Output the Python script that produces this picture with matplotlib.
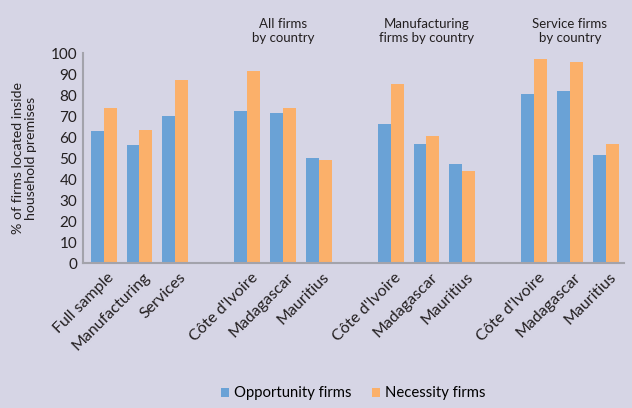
import numpy as np
import matplotlib.pyplot as plt

plt.rcParams['font.family'] = ['Lato', 'DejaVu Sans']

labels = ['Full sample', 'Manufacturing', 'Services',
          "Côte d'Ivoire", 'Madagascar', 'Mauritius',
          "Côte d'Ivoire", 'Madagascar', 'Mauritius',
          "Côte d'Ivoire", 'Madagascar', 'Mauritius']
opportunity = [63, 56, 70, 72.5, 71.5, 50, 66, 56.5, 47, 80.5, 82, 51.5]
necessity = [74, 63.5, 87, 91.5, 74, 49, 85.5, 60.5, 44, 97, 95.5, 56.5]
group_titles = ['All firms\nby country', 'Manufacturing\nfirms by country',
                'Service firms\nby country']

bg = '#d6d5e5'
blue = '#6aa2d6'
orange = '#fbb06a'
txt = '#231f20'

# one empty slot between each block of three
x = np.array([0, 1, 2, 4, 5, 6, 8, 9, 10, 12, 13, 14], dtype=float)
w = 0.36

fig = plt.figure(figsize=(6.32, 4.08), dpi=100, facecolor=bg)
ax = fig.add_axes([0.131, 0.355, 0.856, 0.515])
ax.set_facecolor(bg)

ax.bar(x - w / 2, opportunity, w, color=blue, label='Opportunity firms')
ax.bar(x + w / 2, necessity, w, color=orange, label='Necessity firms')

ax.set_ylim(0, 100)
ax.set_xlim(-0.58, 14.5)
ax.set_yticks(range(0, 101, 10))
ax.tick_params(axis='y', length=0, labelsize=11, pad=4, colors=txt)
ax.set_xticks(x + 0.1)
ax.set_xticklabels(labels, rotation=45, ha='right', rotation_mode='anchor',
                   fontsize=11.5, color=txt)
ax.tick_params(axis='x', length=0, pad=5)

for s in ['top', 'right']:
    ax.spines[s].set_visible(False)
for s in ['left', 'bottom']:
    ax.spines[s].set_color('#a3a3ab')
    ax.spines[s].set_linewidth(1.5)

ax.set_ylabel('% of firms located inside\nhousehold premises', fontsize=10.2,
              color=txt, linespacing=1.05, labelpad=10)

for xc, t in zip([5, 9, 13], group_titles):
    ax.text(xc, 1.165, t, transform=ax.get_xaxis_transform(), ha='center',
            va='top', fontsize=9.5, color=txt, linespacing=1.2)

# legend sits centred under the plot area
ax.legend(loc='center', bbox_to_anchor=(0.5, -0.62), ncol=2, frameon=False,
          fontsize=10.7, handlelength=0.55, handleheight=0.55,
          handletextpad=0.3, columnspacing=1.4)

fig.savefig('out.png', dpi=100, facecolor=bg)
